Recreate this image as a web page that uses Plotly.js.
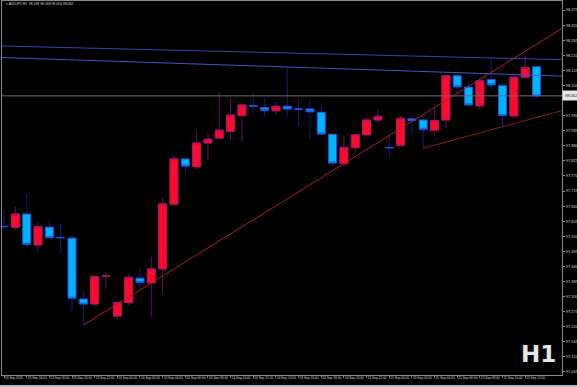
<!DOCTYPE html>
<html><head><meta charset="utf-8">
<script src="https://cdn.plot.ly/plotly-3.0.1.min.js"></script>
<style>html,body{margin:0;padding:0;background:#000;overflow:hidden}#chart{width:577px;height:387px}</style>
</head><body><div id="chart"></div>
<script>
// ---- Data (AUDJPY H1, bars from 23 Sep 14:00 to 25 Sep 13:00) ----
const times = [
 "23 Sep 14:00","23 Sep 15:00","23 Sep 16:00","23 Sep 17:00","23 Sep 18:00","23 Sep 19:00",
 "23 Sep 20:00","23 Sep 21:00","23 Sep 22:00","23 Sep 23:00","24 Sep 00:00","24 Sep 01:00",
 "24 Sep 02:00","24 Sep 03:00","24 Sep 04:00","24 Sep 05:00","24 Sep 06:00","24 Sep 07:00",
 "24 Sep 08:00","24 Sep 09:00","24 Sep 10:00","24 Sep 11:00","24 Sep 12:00","24 Sep 13:00",
 "24 Sep 14:00","24 Sep 15:00","24 Sep 16:00","24 Sep 17:00","24 Sep 18:00","24 Sep 19:00",
 "24 Sep 20:00","24 Sep 21:00","24 Sep 22:00","24 Sep 23:00","25 Sep 00:00","25 Sep 01:00",
 "25 Sep 02:00","25 Sep 03:00","25 Sep 04:00","25 Sep 05:00","25 Sep 06:00","25 Sep 07:00",
 "25 Sep 08:00","25 Sep 09:00","25 Sep 10:00","25 Sep 11:00","25 Sep 12:00","25 Sep 13:00"];
const opens = [97.586,97.583,97.631,97.518,97.583,97.546,97.543,97.321,97.303,97.404,97.259,97.308,
 97.397,97.380,97.431,97.667,97.832,97.804,97.890,97.908,97.933,97.990,98.026,98.019,
 98.008,98.024,98.014,98.014,98.002,97.922,97.816,97.873,97.920,97.974,97.874,97.882,
 97.978,97.974,97.937,97.974,98.135,98.094,98.026,98.122,98.099,97.989,98.130,98.168];
const highs = [97.646,97.658,97.704,97.600,97.607,97.597,97.555,97.348,97.405,97.421,97.311,97.412,
 97.433,97.476,97.691,97.849,97.834,97.935,97.926,98.074,98.051,98.037,98.075,98.057,
 98.038,98.166,98.051,98.047,98.031,97.925,97.916,97.923,97.986,98.011,97.919,97.989,
 97.992,97.978,98.017,98.138,98.137,98.114,98.126,98.199,98.108,98.144,98.211,98.168];
const lows = [97.573,97.573,97.512,97.490,97.536,97.488,97.275,97.226,97.296,97.359,97.247,97.299,
 97.354,97.257,97.342,97.665,97.777,97.796,97.828,97.906,97.901,97.894,97.995,97.986,
 97.991,97.986,97.952,97.907,97.918,97.806,97.806,97.853,97.913,97.962,97.834,97.879,
 97.919,97.871,97.919,97.944,98.071,98.023,98.011,98.083,97.952,97.980,98.129,98.054];
const closes = [97.585,97.631,97.521,97.585,97.545,97.545,97.324,97.303,97.403,97.405,97.308,97.400,
 97.381,97.431,97.668,97.832,97.806,97.890,97.904,97.937,97.992,98.029,98.025,98.009,
 98.024,98.014,98.013,98.004,97.923,97.817,97.874,97.920,97.974,97.986,97.873,97.980,
 97.972,97.940,97.972,98.136,98.095,98.029,98.117,98.102,97.990,98.130,98.165,98.062];
const axisLabels = ["23 Sep 2025","23 Sep 16:00","23 Sep 18:00","23 Sep 20:00","23 Sep 22:00",
 "24 Sep 00:00","24 Sep 02:00","24 Sep 04:00","24 Sep 06:00","24 Sep 08:00","24 Sep 10:00",
 "24 Sep 12:00","24 Sep 14:00","24 Sep 16:00","24 Sep 18:00","24 Sep 20:00","24 Sep 22:00",
 "25 Sep 00:00","25 Sep 02:00","25 Sep 04:00","25 Sep 06:00","25 Sep 08:00","25 Sep 10:00","25 Sep 12:00"];
const priceTicks = [97.055,97.110,97.165,97.220,97.275,97.330,97.385,97.440,97.495,97.550,97.605,
 97.660,97.715,97.770,97.825,97.880,97.935,97.990,98.100,98.155,98.210,98.265,98.320,98.375];
const bidPrice = 98.062;
const titleText = "AUDJPY,H1  98.168 98.168 98.054 98.062";
// drawn lines: anchor points (bar index, price)
const trendUpX = [7, 49.3],  trendUpY = [97.226, 98.309];
const trendLowX = [37, 49.3], trendLowY = [97.871, 98.009];
const blueUpperX = [-0.3, 49.3], blueUpperY = [98.244, 98.194];
const blueLowerX = [-0.3, 49.3], blueLowerY = [98.202, 98.134];

// ---- Build ----
const idx = times.map((t, i) => i);
const labelPos = axisLabels.map((t) => times.indexOf(t) >= 0 ? times.indexOf(t) : 0);
const bodyHigh = opens.map((o, i) => Math.max(o, closes[i]));
const bodyLow = opens.map((o, i) => Math.min(o, closes[i]));
const xRange = [-0.18, 49.25];

const traces = [
 {type:'scatter', mode:'lines', x:[xRange[0], xRange[1]], y:[bidPrice, bidPrice],
  line:{color:'#6c6c6c', width:1}, hoverinfo:'skip'},
 {type:'scatter', mode:'lines', x:blueUpperX, y:blueUpperY, line:{color:'#2a48b0', width:1}, hoverinfo:'skip'},
 {type:'scatter', mode:'lines', x:blueLowerX, y:blueLowerY, line:{color:'#3a5ad0', width:1}, hoverinfo:'skip'},
 {type:'candlestick', x:idx, open:opens, high:highs, low:lows, close:closes,
  increasing:{line:{color:'#62105e', width:1}, fillcolor:'#ff0a2a'},
  decreasing:{line:{color:'#18187c', width:1}, fillcolor:'#00b4ff'},
  whiskerwidth:0, hoverinfo:'skip'},
 {type:'candlestick', x:idx, open:opens, high:bodyHigh, low:bodyLow, close:closes,
  increasing:{line:{color:'#b01464', width:1}, fillcolor:'#ff0a2a'},
  decreasing:{line:{color:'#1a56dc', width:1}, fillcolor:'#00b4ff'},
  whiskerwidth:0, hoverinfo:'skip'},
 {type:'scatter', mode:'lines', x:trendUpX, y:trendUpY, line:{color:'#b02020', width:1}, hoverinfo:'skip'},
 {type:'scatter', mode:'lines', x:trendLowX, y:trendLowY, line:{color:'#8e1c1c', width:1}, hoverinfo:'skip'}
];

const axisCol = '#8a8a8a';
const layout = {
 width:577, height:387,
 paper_bgcolor:'#000000', plot_bgcolor:'#000000',
 margin:{l:2, r:15, t:1, b:12, pad:0},
 showlegend:false,
 boxgap:0.3, boxgroupgap:0,
 xaxis:{type:'linear', range:xRange, rangeslider:{visible:false}, showgrid:false, zeroline:false,
  showline:true, linecolor:axisCol, linewidth:1, mirror:true,
  ticks:'outside', ticklen:2, tickcolor:axisCol, tickwidth:1,
  tickmode:'array', tickvals:labelPos, ticktext:axisLabels, ticklabelposition:'outside right',
  tickangle:0, ticklabelstandoff:-1,
  tickfont:{family:'Liberation Sans, Arial, sans-serif', size:3.2, color:'#d4d4d4'}, fixedrange:true},
 yaxis:{side:'right', range:[97.044, 98.408], showgrid:false, zeroline:false,
  showline:true, linecolor:axisCol, linewidth:1, mirror:true,
  ticks:'outside', ticklen:2, tickcolor:axisCol, tickwidth:1,
  tickmode:'array', tickvals:priceTicks, ticktext:priceTicks.map(v => v.toFixed(3)),
  tickfont:{family:'Liberation Sans, Arial, sans-serif', size:4, color:'#d4d4d4'}, fixedrange:true},
 annotations:[
  {xref:'paper', yref:'paper', x:0.004, y:0.992, xanchor:'left', yanchor:'middle', showarrow:false,
   text:'\u25BE ' + titleText, font:{family:'Liberation Sans, Arial, sans-serif', size:3.4, color:'#d8d8d8'}},
  {xref:'paper', yref:'y', x:1, y:bidPrice, xanchor:'left', yanchor:'middle', showarrow:false,
   text:bidPrice.toFixed(3), bgcolor:'#e8e8e8', borderpad:2,
   font:{family:'Liberation Sans, Arial, sans-serif', size:4, color:'#202020'}},
  {xref:'paper', yref:'paper', x:0.958, y:0.055, xanchor:'center', yanchor:'middle', showarrow:false,
   text:'H1', font:{family:'DejaVu Sans, sans-serif', size:23, color:'#e6e6e6', weight:'bold'}}
 ],
 shapes:[
  {type:'rect', xref:'paper', yref:'paper', x0:-0.01, x1:1.04, y0:-0.0325, y1:-0.0265,
   fillcolor:'#b8bcc0', line:{width:0}, layer:'above'}
 ]
};
Plotly.newPlot('chart', traces, layout, {staticPlot:true, displayModeBar:false});
</script></body></html>
